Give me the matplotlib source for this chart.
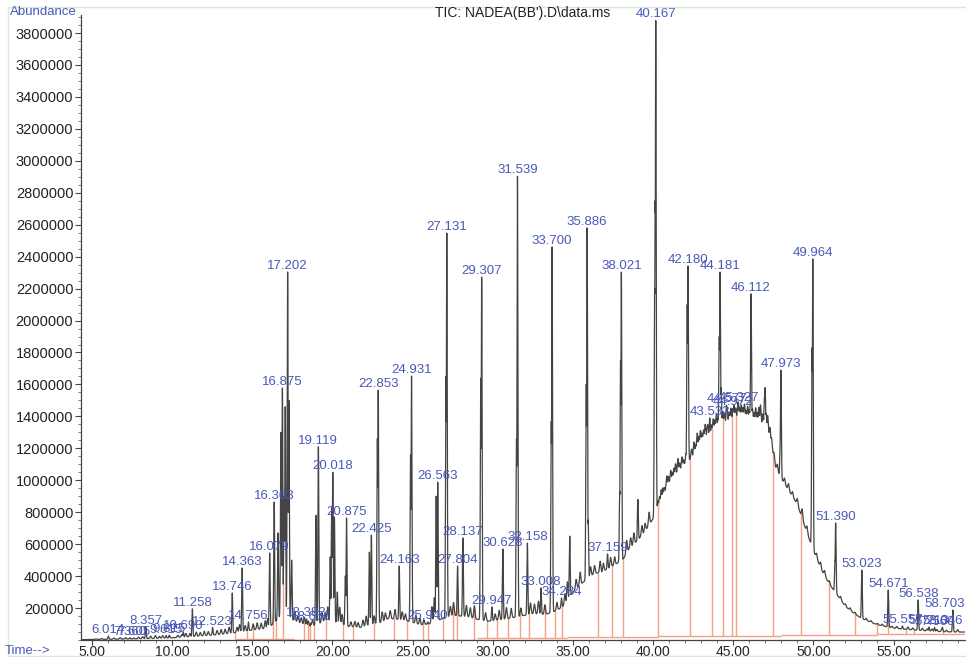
import numpy as np
import matplotlib
matplotlib.use("Agg")
import matplotlib.pyplot as plt
from matplotlib.ticker import FixedLocator, MultipleLocator, FuncFormatter
from matplotlib.lines import Line2D

plt.rcParams['font.family'] = ['Liberation Sans', 'DejaVu Sans']

# ---- chromatogram data -------------------------------------------------
# background (unresolved) signal: retention time (min) / abundance
base_time = [4.3, 5.0, 7.0, 9.0, 10.0, 11.0, 12.0, 13.0, 14.0, 15.0, 16.0, 16.5,
             17.0, 17.5, 18.0, 18.6, 19.0, 19.5, 20.3, 21.0, 21.7, 22.3, 23.0,
             23.5, 24.5, 25.5, 26.0, 27.0, 27.5, 28.5, 29.0, 29.7, 30.3, 31.0,
             31.5, 32.5, 33.3, 34.0, 34.5, 35.0, 35.5, 36.3, 36.8, 37.5, 38.1,
             38.5, 39.0, 39.5, 40.0, 40.5, 41.0, 41.5, 42.0, 42.5, 43.0, 43.5,
             44.0, 44.5, 45.0, 45.5, 46.0, 46.5, 47.0, 47.3, 47.6, 48.0, 48.5,
             49.0, 49.5, 50.0, 50.5, 51.0, 51.5, 52.0, 52.5, 53.0, 53.5, 54.0,
             55.0, 56.0, 57.0, 58.0, 59.0, 59.6]
base_abund = [2000, 3000, 6000, 10000, 14000, 20000, 27000, 35000, 48000, 62000,
              75000, 120000, 180000, 125000, 106000, 85000, 95000, 120000, 110000,
              85000, 78000, 95000, 110000, 135000, 125000, 95000, 100000, 140000,
              155000, 145000, 130000, 118000, 125000, 135000, 145000, 165000,
              160000, 185000, 220000, 300000, 350000, 415000, 425000, 465000,
              500000, 570000, 620000, 680000, 760000, 870000, 980000, 1040000,
              1100000, 1150000, 1240000, 1290000, 1330000, 1360000, 1390000,
              1400000, 1380000, 1360000, 1340000, 1270000, 1090000, 1010000,
              930000, 850000, 700000, 560000, 440000, 350000, 280000, 210000,
              170000, 135000, 115000, 95000, 75000, 65000, 58000, 52000, 50000,
              50000]

# integrated peaks: retention time label and apex abundance
peak_label = ["6.014", "7.360", "7.605", "8.357", "9.615", "9.815", "10.690",
              "11.258", "12.523", "13.746", "14.363", "14.756", "16.079",
              "16.363", "16.875", "17.202", "18.382", "18.656", "19.119",
              "20.018", "20.875", "22.425", "22.853", "24.163", "24.931",
              "25.940", "26.563", "27.131", "27.804", "28.137", "29.307",
              "29.947", "30.628", "31.539", "32.158", "33.008", "33.700",
              "34.284", "35.886", "37.159", "38.021", "40.167", "42.180",
              "43.533", "44.181", "44.577", "44.972", "45.327", "46.112",
              "47.973", "49.964", "51.390", "53.023", "54.671", "55.557",
              "56.538", "57.213", "57.560", "58.046", "58.703"]
peak_apex = [25000, 14000, 13000, 80000, 28000, 30000, 50000,
             195000, 78000, 294000, 451000, 113000, 545000,
             864000, 1578000, 2304000, 131000, 106000, 1210000,
             1050000, 764000, 657000, 1565000, 463000, 1653000,
             113000, 989000, 2549000, 463000, 639000, 2273000,
             207000, 570000, 2905000, 607000, 326000, 2461000,
             263000, 2580000, 539000, 2304000, 3880000, 2342000,
             1390000, 2304000, 1470000, 1450000, 1480000, 2167000,
             1690000, 2386000, 733000, 438000, 313000, 88000,
             250000, 80000, 78000, 80000, 188000]

# unlabelled co-eluting shoulders: retention time / apex abundance
shoulder_rt = [16.60, 16.78, 16.98, 17.05, 17.28, 17.45, 18.97, 19.86, 19.95,
               20.12, 20.30, 20.80, 22.30, 22.80, 24.87, 26.47, 27.08, 29.25,
               31.48, 33.65, 34.80, 35.83, 35.95, 37.92, 37.97, 39.05, 40.10,
               40.13, 42.13, 44.13, 44.25, 46.07, 46.95, 46.99, 47.93, 49.92,
               51.35]
shoulder_apex = [670000, 1300000, 900000, 1460000, 1500000, 500000, 780000,
                 520000, 830000, 770000, 300000, 400000, 550000, 1260000,
                 1160000, 900000, 1650000, 1640000, 1260000, 1370000, 650000,
                 1600000, 750000, 930000, 1750000, 880000, 2200000, 2750000,
                 2100000, 1900000, 1580000, 1500000, 1520000, 1580000, 1200000,
                 1830000, 500000]

# small unresolved bumps: retention time / rise above background
minor_rt = [5.25, 5.6, 6.35, 6.75, 7.1, 7.9, 8.15, 8.65, 8.95, 9.2, 9.4, 10.35,
            10.6, 10.85, 11.1, 11.5, 11.75, 12.0, 12.25, 12.8, 13.05, 13.3,
            13.55, 14.05, 14.2, 14.55, 15.05, 15.3, 15.55, 15.8, 15.95, 17.65,
            17.85, 18.05, 18.25, 18.5, 18.75, 19.35, 19.55, 19.7, 20.45, 20.6,
            21.15, 21.4, 21.6, 21.9, 22.1, 22.6, 23.1, 23.3, 23.6, 23.9, 24.35,
            24.55, 25.2, 25.45, 25.7, 26.2, 26.35, 27.35, 27.55, 28.35, 28.6,
            28.85, 29.55, 30.15, 30.4, 30.85, 31.15, 31.75, 32.35, 32.6, 32.85,
            33.25, 34.0, 34.5, 34.65, 35.2, 35.45, 36.1, 36.35, 36.7, 36.9,
            37.35, 37.6, 38.35, 38.6, 38.8, 39.3, 39.5, 39.75, 40.3, 40.4,
            40.5, 40.6, 40.7, 40.85, 40.95, 41.1, 41.2, 41.3, 41.4, 41.55,
            41.65, 41.8, 41.9, 42.05, 42.4, 42.55, 42.65, 42.75, 42.85, 42.95,
            43.05, 43.15, 43.25, 43.4, 43.65, 43.75, 43.85, 43.95, 44.05,
            44.35, 44.45, 44.6, 44.75, 44.85, 45.05, 45.15, 45.3, 45.4, 45.5,
            45.6, 45.7, 45.8, 45.9, 46.0, 46.2, 46.3, 46.4, 46.5, 46.6, 46.7,
            46.85, 47.05, 47.15, 47.3, 47.4, 47.55, 47.75, 48.2, 48.45, 48.7,
            49.0, 49.3, 49.6, 50.2, 50.45, 50.7, 51.0, 51.7, 52.0, 52.3, 52.6,
            53.3, 53.6, 54.0, 54.3, 54.9, 55.2, 55.9, 56.2, 56.8, 57.1, 57.4,
            57.7, 58.0, 58.3, 59.0, 59.3]
minor_rise = [4000, 6000, 7000, 9000, 8000, 10000, 12000, 15000, 18000, 12000,
              16000, 14000, 18000, 22000, 20000, 26000, 22000, 28000, 24000,
              26000, 30000, 28000, 38000, 30000, 45000, 35000, 38000, 42000,
              36000, 48000, 60000, 60000, 40000, 35000, 45000, 30000, 40000,
              60000, 50000, 90000, 100000, 60000, 30000, 35000, 30000, 40000,
              60000, 50000, 60000, 45000, 50000, 60000, 50000, 40000, 50000,
              40000, 30000, 100000, 150000, 60000, 80000, 70000, 60000, 80000,
              50000, 40000, 60000, 70000, 60000, 50000, 70000, 60000, 80000,
              60000, 50000, 70000, 120000, 60000, 80000, 60000, 50000, 70000,
              50000, 60000, 50000, 80000, 60000, 70000, 60000, 50000, 80000,
              45000, 50000, 70000, 60000, 40000, 80000, 55000, 70000, 45000,
              60000, 75000, 90000, 50000, 70000, 40000, 60000, 55000, 80000,
              45000, 100000, 60000, 80000, 50000, 60000, 85000, 70000, 45000,
              75000, 60000, 90000, 50000, 80000, 65000, 90000, 50000, 70000,
              80000, 60000, 95000, 55000, 70000, 60000, 85000, 50000, 80000,
              60000, 75000, 55000, 90000, 65000, 100000, 120000, 70000, 90000,
              100000, 60000, 50000, 50000, 40000, 35000, 40000, 30000, 35000,
              60000, 40000, 30000, 35000, 30000, 20000, 20000, 15000, 15000,
              10000, 12000, 10000, 9000, 10000, 9000, 12000, 15000, 12000,
              15000, 12000, 14000, 12000, 14000, 10000, 15000]

# integration events (peak start/stop markers) and baseline segments
cut_time = [13.92, 14.67, 15.05, 16.30, 16.48, 16.93, 18.20, 18.45, 18.62,
            18.85, 19.60, 20.66, 21.28, 22.62, 23.82, 24.65, 25.65, 25.96,
            26.90, 27.52, 27.77, 28.83, 29.64, 30.26, 30.95, 31.70, 32.26,
            33.26, 33.88, 34.32, 36.57, 37.44, 38.13, 40.28, 42.30, 43.70,
            44.37, 44.90, 45.20, 47.50, 49.20, 50.97, 52.60, 53.97, 54.65,
            55.80, 56.30, 58.10]
seg_start = [13.9, 17.6, 29.0, 34.6, 40.3, 48.0, 54.0]
seg_end = [17.6, 29.0, 34.6, 40.3, 48.0, 54.0, 59.6]
seg_level = [4000, 2000, 11000, 21000, 22000, 30000, 40000]

# ---- build the trace -----------------------------------------------------
t = np.arange(4.3, 59.6, 0.002)
bg = np.interp(t, base_time, base_abund)
env = np.zeros_like(t)
for rt_txt, apex in zip(peak_label, peak_apex):
    rt = float(rt_txt)
    amp = apex - np.interp(rt, base_time, base_abund)
    env = np.maximum(env, amp * np.exp(-0.5 * ((t - rt) / 0.028) ** 2))
for rt, apex in zip(shoulder_rt, shoulder_apex):
    amp = apex - np.interp(rt, base_time, base_abund)
    env = np.maximum(env, amp * np.exp(-0.5 * ((t - rt) / 0.028) ** 2))
for rt, rise in zip(minor_rt, minor_rise):
    env = np.maximum(env, rise * np.exp(-0.5 * ((t - rt) / 0.04) ** 2))
signal = bg + env

# ---- figure ----------------------------------------------------------------
W, H = 966, 657
fig = plt.figure(figsize=(W / 100, H / 100), dpi=100)
ax = fig.add_axes([81 / W, (H - 640) / H, (965 - 81) / W, (640 - 15) / H])

blue = '#4a58b8'
salmon = '#f4a088'

ax.plot(t, signal, color='#444444', lw=0.9, zorder=3)

seg_of = lambda x: seg_level[max(i for i, s in enumerate(seg_start) if s <= x)]
for ct in cut_time:
    top = np.interp(ct, t, signal)
    ax.vlines(ct, seg_of(ct), top, color=salmon, lw=1.0, zorder=2)
ax.hlines(seg_level, seg_start, seg_end, color=salmon, lw=1.0, zorder=2)

x_right = 59.46
for rt_txt, apex in zip(peak_label, peak_apex):
    rt = float(rt_txt)
    if rt > x_right - 1.2:
        # keep the last label inside the plotting area
        ax.annotate(rt_txt, (1.0, apex), xycoords=('axes fraction', 'data'),
                    xytext=(0, 0), textcoords='offset points', ha='right',
                    va='bottom', color=blue, fontsize=9.5, zorder=4,
                    annotation_clip=False)
    else:
        ax.annotate(rt_txt, (rt, apex), xytext=(0, 0),
                    textcoords='offset points', ha='center', va='bottom',
                    color=blue, fontsize=9.5, zorder=4, annotation_clip=False)

ax.set_xlim(4.31, x_right)
ax.set_ylim(0, 3913000)

for side in ('top', 'right'):
    ax.spines[side].set_visible(False)
for side in ('left', 'bottom'):
    ax.spines[side].set_color('#444444')
    ax.spines[side].set_linewidth(0.9)

ax.yaxis.set_major_locator(FixedLocator(np.arange(200000, 3800001, 200000)))
ax.yaxis.set_minor_locator(MultipleLocator(50000))
ax.yaxis.set_major_formatter(FuncFormatter(lambda v, p: f"{int(round(v))}"))
ax.xaxis.set_major_locator(FixedLocator(np.arange(5, 56, 5)))
ax.xaxis.set_minor_locator(MultipleLocator(1))
ax.xaxis.set_major_formatter(FuncFormatter(lambda v, p: f"{v:.2f}"))
ax.tick_params(which='major', direction='out', length=4, width=0.8,
               color='#444444', labelsize=10.5, labelcolor='#222222', pad=1.5)
ax.tick_params(axis='x', which='major', labelsize=10, length=3.5, pad=0)
ax.tick_params(which='minor', direction='out', length=2.5, width=0.6,
               color='#666666')

fig.text(10 / W, 1 - 12 / H, "Abundance", color=blue, fontsize=9.5,
         ha='left', va='center')
fig.text(5 / W, 1 - 651 / H, "Time-->", color=blue, fontsize=9.5,
         ha='left', va='center')
fig.text(523 / W, 1 - 13 / H, "TIC: NADEA(BB').D\\data.ms", color='#222222',
         fontsize=10, ha='center', va='center')

# light frame around the report area
frame = '#d6ead6'
fig.add_artist(Line2D([8 / W, 1], [1 - 7 / H, 1 - 7 / H], color=frame, lw=1,
                      transform=fig.transFigure))
fig.add_artist(Line2D([8 / W, 8 / W], [1 - 7 / H, 1 / H], color=frame, lw=1,
                      transform=fig.transFigure))
fig.add_artist(Line2D([8 / W, 1], [1 / H, 1 / H], color=frame, lw=1,
                      transform=fig.transFigure))

fig.savefig("out.png", dpi=100)
